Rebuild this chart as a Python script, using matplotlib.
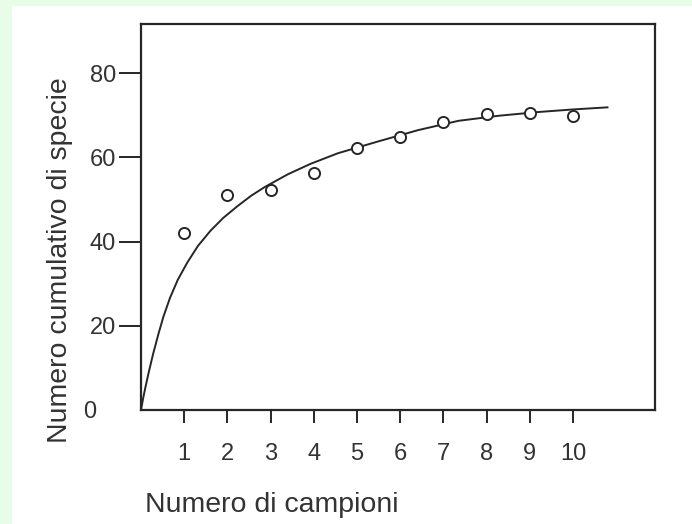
import numpy as np
import matplotlib.pyplot as plt
from matplotlib.patches import Rectangle
from matplotlib.transforms import ScaledTranslation

plt.rcParams['font.family'] = ['Liberation Sans', 'DejaVu Sans']

# Observed cumulative species per sample
campioni = [1, 2, 3, 4, 5, 6, 7, 8, 9, 10]
specie = [42.0, 51.1, 52.2, 56.2, 62.2, 64.8, 68.3, 70.3, 70.6, 69.8]

# Fitted accumulation curve
curva_x = [0, 0.05, 0.1, 0.18, 0.28, 0.41, 0.52, 0.67, 0.85, 1.07, 1.32, 1.61, 1.9,
           2.23, 2.55, 2.87, 3.4, 3.93, 4.56, 5.49, 6.42, 7.35, 8.28, 9.21, 10.0, 10.8]
curva_y = [0, 2.8, 5.3, 9.0, 13.3, 18.3, 22.2, 26.6, 30.9, 35.0, 39.0, 42.6, 45.6,
           48.4, 50.9, 53.0, 56.0, 58.5, 61.0, 63.8, 66.5, 68.7, 69.9, 70.8, 71.4, 71.9]

x_ticks = [1, 2, 3, 4, 5, 6, 7, 8, 9, 10]
y_ticks = [0, 20, 40, 60, 80]

ink = '#262626'
txt = '#333333'

fig = plt.figure(figsize=(6.92, 5.24), dpi=100, facecolor='#e8fde8')
# white page area inside the green frame
fig.patches.append(Rectangle((12 / 692, 0), 1, 1 - 6 / 524, transform=fig.transFigure,
                             facecolor='white', edgecolor='none', zorder=-5))

ax = fig.add_axes([141 / 692, 1 - 410 / 524, (655 - 141) / 692, (410 - 24) / 524])
ax.set_facecolor('none')

ax.plot(curva_x, curva_y, color=ink, lw=1.4, zorder=2)
ax.plot(campioni, specie, 'o', ms=8, mfc='white', mec=ink, mew=1.4, zorder=3)

ax.set_xlim(0, 11.9)
ax.set_ylim(0, 91.7)

for s in ax.spines.values():
    s.set_color(ink)
    s.set_linewidth(1.6)

ax.set_xticks(x_ticks)
ax.set_xticklabels([str(v) for v in x_ticks])
ax.set_yticks(y_ticks)
ax.set_yticklabels([str(v) for v in y_ticks])
ax.tick_params(axis='x', direction='out', length=9, width=1.4, color=ink,
               pad=15, labelsize=17, labelcolor=txt)
ax.tick_params(axis='y', direction='out', length=16, width=1.4, color=ink,
               pad=2, labelsize=17, labelcolor=txt)

# the "0" has no tick mark and sits further to the left
zero = ax.yaxis.get_major_ticks()[0]
zero.tick1line.set_visible(False)
zero.label1.set_transform(zero.label1.get_transform()
                          + ScaledTranslation(-0.2, 0, fig.dpi_scale_trans))

fig.text(145 / 692, 1 - 512 / 524, 'Numero di campioni', fontsize=20.5,
         color=txt, ha='left', va='baseline')
fig.text(60 / 692, 1 - 260 / 524, 'Numero cumulativo di specie', rotation=90,
         fontsize=20.5, color=txt, ha='center', va='center')

fig.savefig('out.png', dpi=100, facecolor=fig.get_facecolor())
